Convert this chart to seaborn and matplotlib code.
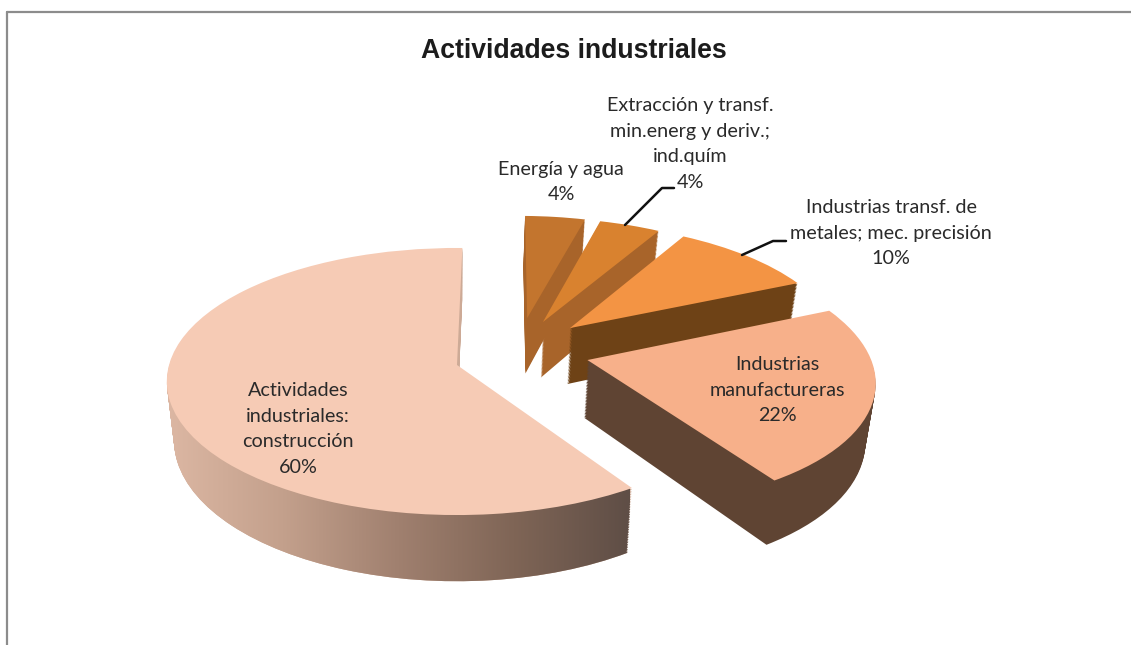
import numpy as np
import seaborn as sns
import matplotlib
matplotlib.use("Agg")
import matplotlib.pyplot as plt
from matplotlib.path import Path
from matplotlib.transforms import Transform

# shares, clockwise from 12 o'clock
sectores = ["Energía y agua", "Extracción y transf.\nmin.energ y deriv.;\nind.quím",
            "Industrias transf. de\nmetales; mec. precisión", "Industrias\nmanufactureras",
            "Actividades\nindustriales:\nconstrucción"]
valores = [4.1, 4.1, 9.9, 22.4, 59.5]
etiquetas_pct = ["4%", "4%", "10%", "22%", "60%"]
colores_cara = ["#c3752e", "#d9822f", "#f39444", "#f7b08a", "#f6cbb5"]
colores_lado = ["#a8642a", "#a8642a", "#6e4216", "#5f4433", "#cdaa96"]
degradado_lado = ["#dcb7a3", "#c3a08c", "#a0806f", "#7f6556", "#5f4e46"]

# layout, in pixels of the 1131x645 picture
CX, CY = 457, 365
RX, RY = 288, 131.5
K = 0.1236
ALTO = 58
desplaz = [(0.255, 0.3735), (0.311, 0.341), (0.4065, 0.291), (0.455, 0.038), (0.0, 0.0)]
radios = [0.945, 0.96, 0.955, 0.99, 1.0]
pos_etiq = [(561, 182), (690, 144), (891, 233), (777, 390), (298, 429)]
guias = {1: [(625, 225), (662, 188), (674, 188)], 2: [(742, 255), (773, 241), (786, 241)]}
CAPAS = 40


class Perspectiva(Transform):
    input_dims = 2
    output_dims = 2

    def __init__(self, z):
        super().__init__()
        self.z = z

    def transform_non_affine(self, xy):
        xy = np.asarray(xy)
        w = 1 + K * xy[:, 1]
        esc = 1 - 0.025 * self.z
        return np.column_stack([CX + RX * esc * xy[:, 0] / w,
                                CY - RY * xy[:, 1] / w + ALTO * self.z / w])


sns.set_theme(style="white")
plt.rcParams["font.family"] = ["Lato", "DejaVu Sans"]

fig = plt.figure(figsize=(11.31, 6.45), dpi=100)
ax = fig.add_axes([0, 0, 1, 1])
ax.set_xlim(0, 1131)
ax.set_ylim(645, 0)
ax.axis("off")

caminos = []
for z in np.linspace(1, 0, CAPAS):
    tope = z == 0
    wedges, _ = ax.pie(valores, startangle=88.8, counterclock=False,
                       colors=colores_cara if tope else colores_lado, frame=False)
    tr = Perspectiva(z)
    for i, w in enumerate(wedges):
        w.set_center(desplaz[i])
        w.set_radius(radios[i])
        w.set_transform(tr + ax.transData)
        w.set_zorder(i * 10 + 2 + (1 if tope else 0) * 3)
        w.set_edgecolor("none")
        w.set_linewidth(0)
        if i == 4 and not tope:
            caminos.append(tr.transform_path(w.get_path()))

# pie() resets limits and aspect
ax.set_aspect("auto")

# construction wall shading runs left to right
cmap = sns.blend_palette(degradado_lado, as_cmap=True)
im = ax.imshow(np.linspace(0, 1, 256)[None, :], cmap=cmap, extent=(167, 630, 590, 380),
               aspect="auto", zorder=44)
im.set_clip_path(Path.make_compound_path(*caminos), ax.transData)
ax.set_xlim(0, 1131)
ax.set_ylim(645, 0)

for i, nombre in enumerate(sectores):
    ax.text(pos_etiq[i][0], pos_etiq[i][1], nombre + "\n" + etiquetas_pct[i], ha="center", va="center",
            fontsize=14.2, color="#2a2a2a", linespacing=1.6, zorder=60)
for g in guias.values():
    ax.plot([p[0] for p in g], [p[1] for p in g], color="#111111", lw=1.8, zorder=59,
            solid_joinstyle="round")

ax.text(574, 51, "Actividades industriales", ha="center", va="center", fontsize=19.2,
        fontweight="bold", family="Liberation Sans", color="#1c1c1c")

# chart frame: top and left only reach the picture
ax.plot([6.5, 1131], [12, 12], color="#8c8c8c", lw=1.6, zorder=1)
ax.plot([6.5, 6.5], [12, 645], color="#8c8c8c", lw=1.6, zorder=1)

fig.savefig("out.png", dpi=100, facecolor="white")
